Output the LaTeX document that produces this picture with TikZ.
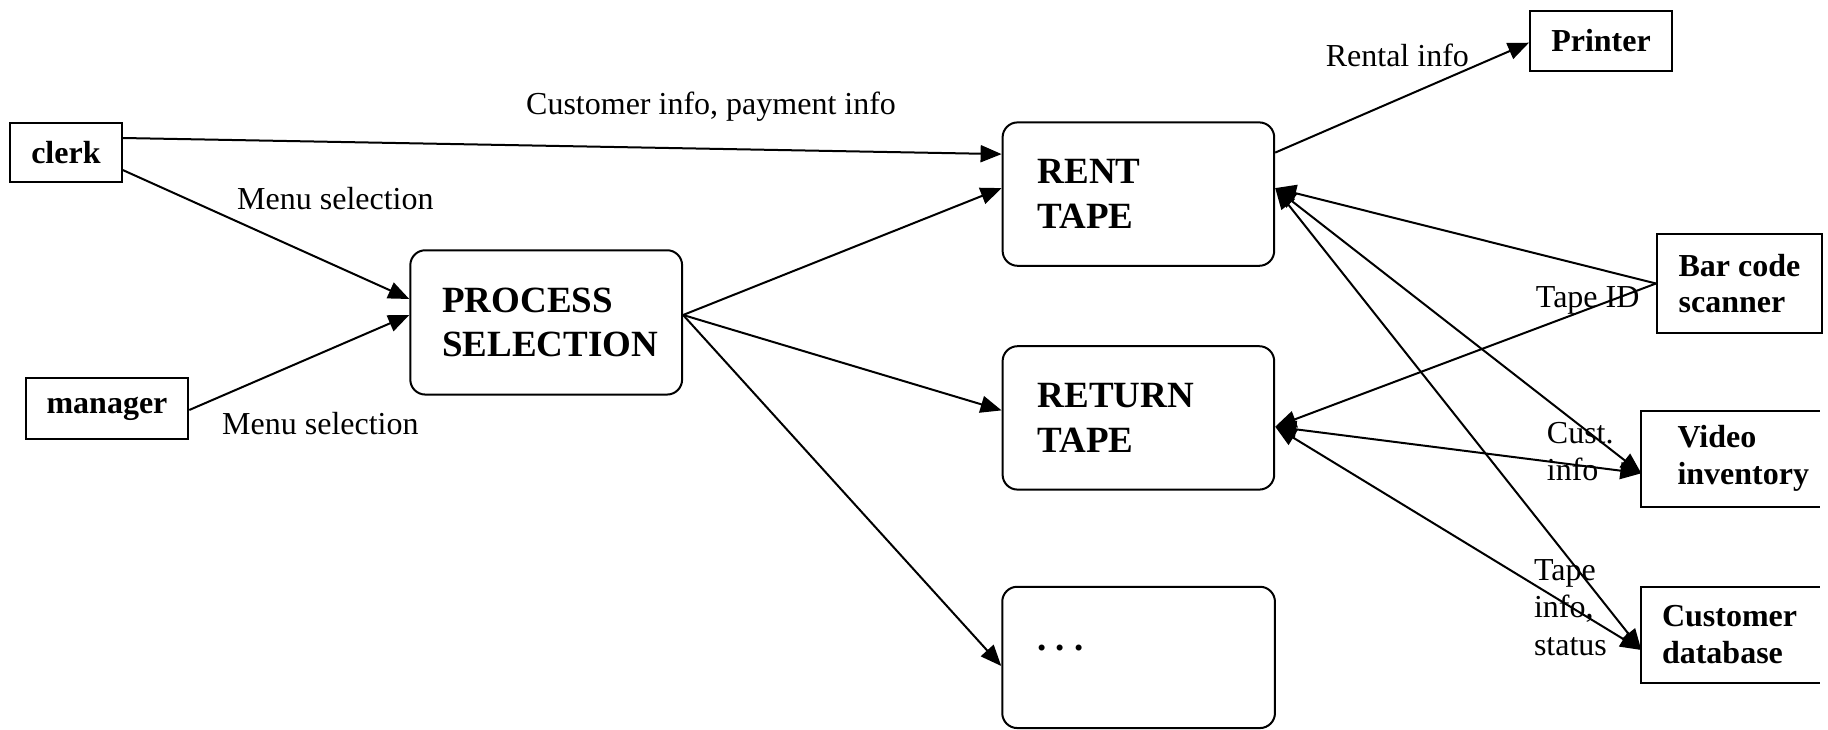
\documentclass[tikz,border=0pt]{standalone}
\usepackage{fontspec}
\setmainfont{Liberation Serif}
\usetikzlibrary{arrows.meta}
\begin{document}
\begin{tikzpicture}[x=1pt,y=-1pt,
  ext/.style={draw, line width=2pt, inner sep=0pt, align=center,
    font=\fontsize{32}{36.8}\selectfont\bfseries},
  extl/.style={inner ysep=0pt, align=left,
    font=\fontsize{32}{36.8}\selectfont\bfseries},
  proc/.style={draw, rounded corners=15pt, line width=2pt, inner ysep=0pt, align=left,
    font=\fontsize{37}{44.5}\selectfont\bfseries},
  lbl/.style={inner sep=0pt, anchor=base west, align=left,
    font=\fontsize{32}{37.5}\selectfont},
  flow/.style={line width=2pt, -{Triangle[length=21pt,width=17pt]}},
  bflow/.style={line width=2pt, {Triangle[length=21pt,width=17pt]}-{Triangle[length=21pt,width=17pt]}},
]
\path[use as bounding box] (0,0) rectangle (1828,730);

% external entities
\node[ext, minimum width=111.6pt, minimum height=59.6pt] (clerk) at (65.9,152.5) {clerk};
\node[ext, minimum width=162.5pt, minimum height=60.7pt] (manager) at (107,408.7) {manager};
\node[ext, minimum width=142pt, minimum height=60pt] (printer) at (1601,40.7) {Printer};
\node[ext, align=left, minimum width=165pt, minimum height=99pt] (scanner) at (1739.5,283.5) {Bar code\\scanner};
\node[extl, minimum width=178pt, minimum height=96pt, text width=106pt, inner xsep=36pt] (video) at (1730.5,458.7) {Video\\inventory};
\draw[line width=2pt] (video.north east) -- (video.north west) -- (video.south west) -- (video.south east);
\node[extl, minimum width=178pt, minimum height=96pt, text width=137pt, inner xsep=20.5pt] (custdb) at (1730.5,634.7) {Customer\\database};
\draw[line width=2pt] (custdb.north east) -- (custdb.north west) -- (custdb.south west) -- (custdb.south east);

% processes
\node[proc, minimum width=271.8pt, minimum height=144.3pt, text width=207.8pt, inner xsep=32pt] (process) at (546.2,322.4) {PROCESS\\SELECTION};
\node[proc, minimum width=271.6pt, minimum height=143.4pt, text width=201.6pt, inner xsep=35pt] (rent) at (1138.4,194.1) {RENT\\TAPE};
\node[proc, minimum width=271.6pt, minimum height=143.4pt, text width=201.6pt, inner xsep=35pt] (return) at (1138.4,417.9) {RETURN\\TAPE};
\node[proc, minimum width=272.7pt, minimum height=141.3pt, text width=202.7pt, inner xsep=35pt] (more) at (1138.6,657.4) {\raisebox{7pt}[0pt][0pt]{.\kern9.5pt.\kern9.5pt.}};

% flows
\draw[flow] ([yshift=14.5pt]clerk.east) -- ([yshift=40pt]rent.west);
\draw[flow] ([yshift=-17.5pt]clerk.east) -- ([yshift=23.4pt]process.west);
\draw[flow] ([yshift=-1.3pt]manager.east) -- ([yshift=7.4pt]process.west);
\draw[flow] ([yshift=7.4pt]process.east) -- ([yshift=6pt]rent.west);
\draw[flow] ([yshift=7.4pt]process.east) -- ([yshift=7.5pt]return.west);
\draw[flow] ([yshift=7.4pt]process.east) -- ([yshift=-8.6pt]more.west);
\draw[flow] ([yshift=41.5pt]rent.east) -- ([yshift=-2pt]printer.west);
\draw[flow] (scanner.west) -- ([yshift=6pt]rent.east);
\draw[flow] (scanner.west) -- ([yshift=-8.8pt]return.east);
\draw[bflow] ([yshift=6pt]rent.east) -- ([yshift=-14.6pt]video.west);
\draw[bflow] ([yshift=6pt]rent.east) -- ([yshift=-15.3pt]custdb.west);
\draw[bflow] ([yshift=-8.8pt]return.east) -- ([yshift=-14.6pt]video.west);
\draw[bflow] ([yshift=-8.8pt]return.east) -- ([yshift=-15.3pt]custdb.west);

% labels
\node[lbl] (l1) at (526,115) {Customer info, payment info};
\node[lbl] (l2) at (237,210) {Menu selection};
\node[lbl] (l3) at (222,434) {Menu selection};
\node[lbl] (l4) at (1325.6,66.7) {Rental info};
\node[lbl] (l5) at (1535.7,307) {Tape ID};
\node[lbl] (l6) at (1546.7,480.5) {Cust.\\info};
\node[lbl] (l7) at (1533.8,655) {Tape\\info,\\status};
\end{tikzpicture}
\end{document}
